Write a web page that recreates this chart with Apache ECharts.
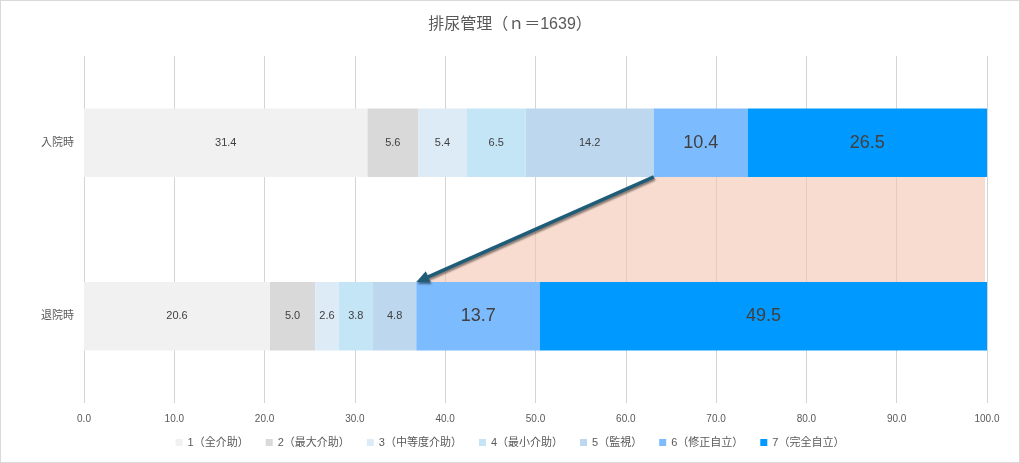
<!DOCTYPE html>
<html>
<head>
<meta charset="utf-8">
<script src="https://cdn.jsdelivr.net/npm/echarts@6/dist/echarts.min.js"></script>
<style>
html, body { margin: 0; padding: 0; background: #fff; }
#chart { width: 1018px; height: 461px; border: 1px solid #d9d9d9; }
</style>
</head>
<body>
<div id="chart"></div>
<script>
var categories = ['入院時', '退院時'];
var levelNames = ['1（全介助）', '2（最大介助）', '3（中等度介助）', '4（最小介助）', '5（監視）', '6（修正自立）', '7（完全自立）'];
var levelColors = ['#f1f1f1', '#d9d9d9', '#ddebf7', '#c3e5f5', '#bdd7ee', '#7cbbfd', '#0099ff'];
// 各レベルの割合 [入院時, 退院時]
var level1 = [31.4, 20.6];
var level2 = [5.6, 5.0];
var level3 = [5.4, 2.6];
var level4 = [6.5, 3.8];
var level5 = [14.2, 4.8];
var level6 = [10.4, 13.7];
var level7 = [26.5, 49.5];
var xTicks = [0, 10, 20, 30, 40, 50, 60, 70, 80, 90, 100];

var levels = [level1, level2, level3, level4, level5, level6, level7];
var font = '"Liberation Sans", "Noto Sans CJK JP", sans-serif';
var barRatio = 0.394;

// 5以下の累計（自立未満の割合）
var below6 = [0, 0];
for (var i = 0; i < 5; i++) {
    below6[0] += levels[i][0];
    below6[1] += levels[i][1];
}

var chart = echarts.init(document.getElementById('chart'));

var series = levels.map(function (vals, i) {
    var big = i >= 5;
    return {
        name: levelNames[i],
        type: 'bar',
        stack: 'total',
        barWidth: (barRatio * 100) + '%',
        data: vals,
        itemStyle: { color: levelColors[i] },
        label: {
            show: true,
            position: 'inside',
            color: '#404040',
            fontFamily: font,
            fontSize: big ? 18 : 11,
            formatter: function (p) { return p.value.toFixed(1); }
        },
        z: 3
    };
});

series.push({
    name: 'shift',
    type: 'custom',
    data: [[below6[0], below6[1]]],
    encode: { x: [0, 1] },
    clip: false,
    z: 4,
    renderItem: function (params, api) {
        var band = api.size([0, 1])[1];
        var half = band * barRatio / 2;
        var a = api.coord([api.value(0), 0]);
        var b = api.coord([api.value(1), 1]);
        var ra = api.coord([100, 0]);
        var rb = api.coord([100, 1]);
        var yA = a[1] + half;
        var yB = b[1] - half;
        var dx = b[0] - a[0], dy = yB - yA;
        var len = Math.sqrt(dx * dx + dy * dy);
        var ux = dx / len, uy = dy / len;
        var headL = 13, headW = 6;
        var bx = b[0] - ux * headL, by = yB - uy * headL;
        return {
            type: 'group',
            children: [
                {
                    type: 'polygon',
                    shape: { points: [[a[0], yA], [ra[0] - 2, yA], [rb[0] - 2, yB], [b[0], yB]] },
                    style: { fill: 'rgba(243,197,175,0.6)' }
                },
                {
                    type: 'line',
                    shape: { x1: a[0], y1: yA, x2: bx, y2: by },
                    style: {
                        stroke: '#1f5c78', lineWidth: 3.5,
                        shadowColor: 'rgba(0,0,0,0.45)', shadowBlur: 2, shadowOffsetX: 1, shadowOffsetY: 2
                    }
                },
                {
                    type: 'polygon',
                    shape: { points: [
                        [b[0], yB],
                        [bx - uy * headW, by + ux * headW],
                        [bx + uy * headW, by - ux * headW]
                    ] },
                    style: {
                        fill: '#1f5c78',
                        shadowColor: 'rgba(0,0,0,0.45)', shadowBlur: 2, shadowOffsetX: 1, shadowOffsetY: 2
                    }
                }
            ]
        };
    }
});

var option = {
    animation: false,
    title: {
        text: '排尿管理（ｎ＝1639）',
        left: 'center',
        top: 11,
        textStyle: { fontFamily: font, fontWeight: 'normal', fontSize: 16, color: '#595959' }
    },
    legend: {
        data: levelNames,
        bottom: 9,
        left: 'center',
        icon: 'rect',
        itemWidth: 7,
        itemHeight: 7,
        itemGap: 17,
        textStyle: { fontFamily: font, fontSize: 11, color: '#595959' }
    },
    grid: { left: 83, right: 32, top: 55, bottom: 59 },
    xAxis: {
        type: 'value',
        min: xTicks[0],
        max: xTicks[xTicks.length - 1],
        interval: 10,
        axisLine: { show: false },
        axisTick: { show: false },
        splitLine: { lineStyle: { color: '#d4d4d4', width: 1 } },
        axisLabel: {
            fontFamily: font, fontSize: 10, color: '#595959', margin: 11,
            formatter: function (v) { return v.toFixed(1); }
        }
    },
    yAxis: {
        type: 'category',
        inverse: true,
        data: categories,
        axisLine: { show: false },
        axisTick: { show: false },
        axisLabel: { fontFamily: font, fontSize: 11, color: '#595959', margin: 10 }
    },
    series: series
};

chart.setOption(option);
</script>
</body>
</html>
